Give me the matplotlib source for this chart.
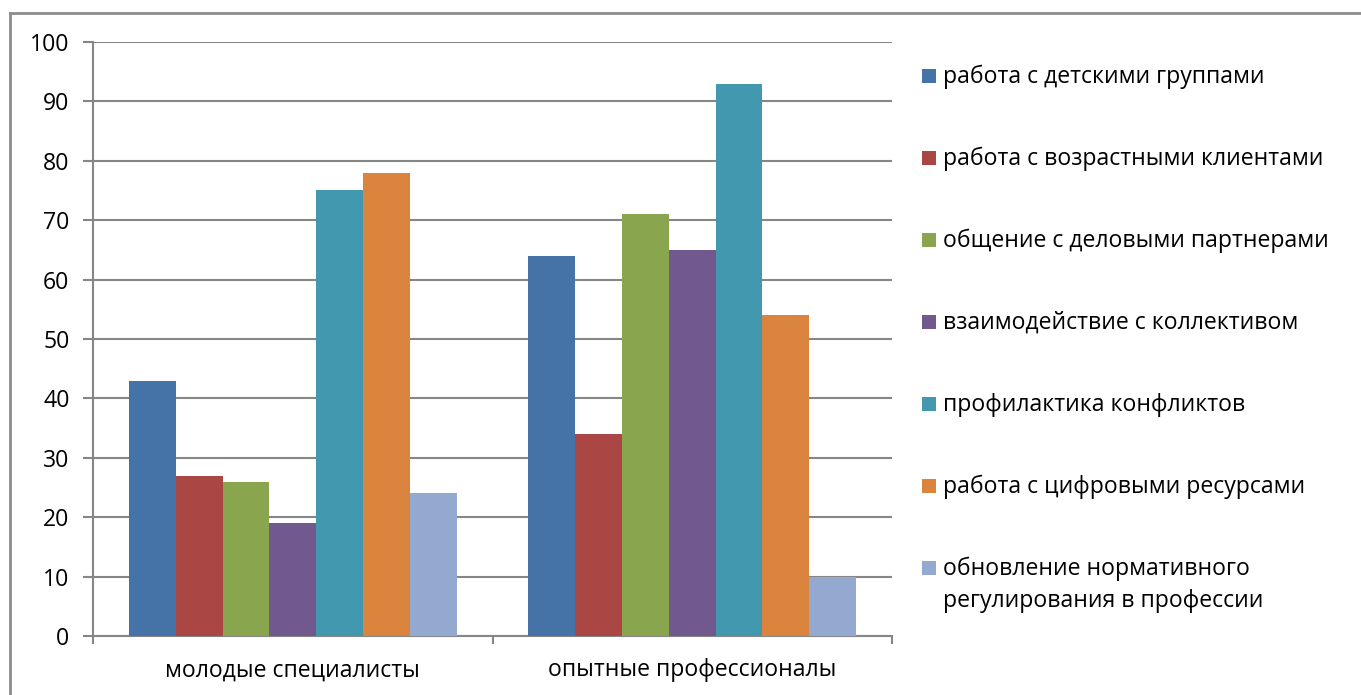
import numpy as np
import matplotlib
matplotlib.use('Agg')
from matplotlib import pyplot as plt
from matplotlib.lines import Line2D
from matplotlib.patches import Rectangle

plt.rcParams['font.family'] = ['Open Sans', 'DejaVu Sans']

groups = ['молодые специалисты', 'опытные профессионалы']
series = [
    'работа с детскими группами',
    'работа с возрастными клиентами',
    'общение с деловыми партнерами',
    'взаимодействие с коллективом',
    'профилактика конфликтов',
    'работа с цифровыми ресурсами',
    'обновление нормативного\nрегулирования в профессии',
]
young = [43, 27, 26, 19, 75, 78, 24]
experienced = [64, 34, 71, 65, 93, 54, 10]
colors = ['#4572A7', '#AA4643', '#89A54E', '#71588F',
          '#4198AF', '#DB843D', '#93A9CF']

W, H = 1361, 695
fs = 16.6
fig = plt.figure(figsize=(W / 100, H / 100), dpi=100)
ax = fig.add_axes([93 / W, 1 - 636 / H, (892 - 93) / W, (636 - 42) / H])

grid_c = '#868686'
x = np.arange(len(groups))
n = len(series)
bw = 0.82 / n
for i in range(n):
    vals = [young[i], experienced[i]]
    ax.bar(x - 0.41 + bw * (i + 0.5), vals, width=bw, color=colors[i],
           edgecolor='none', zorder=3)

ax.set_xlim(-0.5, 1.5)
ax.set_ylim(0, 100)
ax.set_yticks(range(0, 101, 10))
ax.yaxis.grid(True, color=grid_c, linewidth=1.5, zorder=0)
ax.set_xticks(x)
ax.set_xticklabels(groups)
ax.set_xticks([-0.5, 0.5, 1.5], minor=True)
ax.tick_params(axis='x', which='major', length=0, pad=16, labelsize=fs)
ax.tick_params(axis='x', which='minor', length=6, width=1.5, color=grid_c)
ax.tick_params(axis='y', length=7, width=1.5, color=grid_c, pad=10,
               labelsize=fs)
for s in ['top', 'right']:
    ax.spines[s].set_visible(False)
for s in ['left', 'bottom']:
    ax.spines[s].set_color(grid_c)
    ax.spines[s].set_linewidth(1.5)

# legend drawn by hand, one row every 82 px, wrapped lines 32 px apart
for i, label in enumerate(series):
    yc = 76 + 82 * i
    fig.patches.append(Rectangle((922 / W, 1 - (yc + 7) / H), 14 / W, 14 / H,
                                 transform=fig.transFigure,
                                 facecolor=colors[i], edgecolor='none'))
    for k, line in enumerate(label.split('\n')):
        fig.text(943 / W, 1 - (yc + 7 + 32 * k) / H, line, fontsize=fs,
                 va='baseline', ha='left')

# outer chart frame (left and top edges)
frame = '#8c8c8c'
fig.lines.append(Line2D([10 / W, 10 / W], [0, 1 - 13 / H], color=frame,
                        linewidth=2, transform=fig.transFigure))
fig.lines.append(Line2D([10 / W, 1], [1 - 13 / H, 1 - 13 / H], color=frame,
                        linewidth=2, transform=fig.transFigure))

fig.savefig('out.png', dpi=100)
